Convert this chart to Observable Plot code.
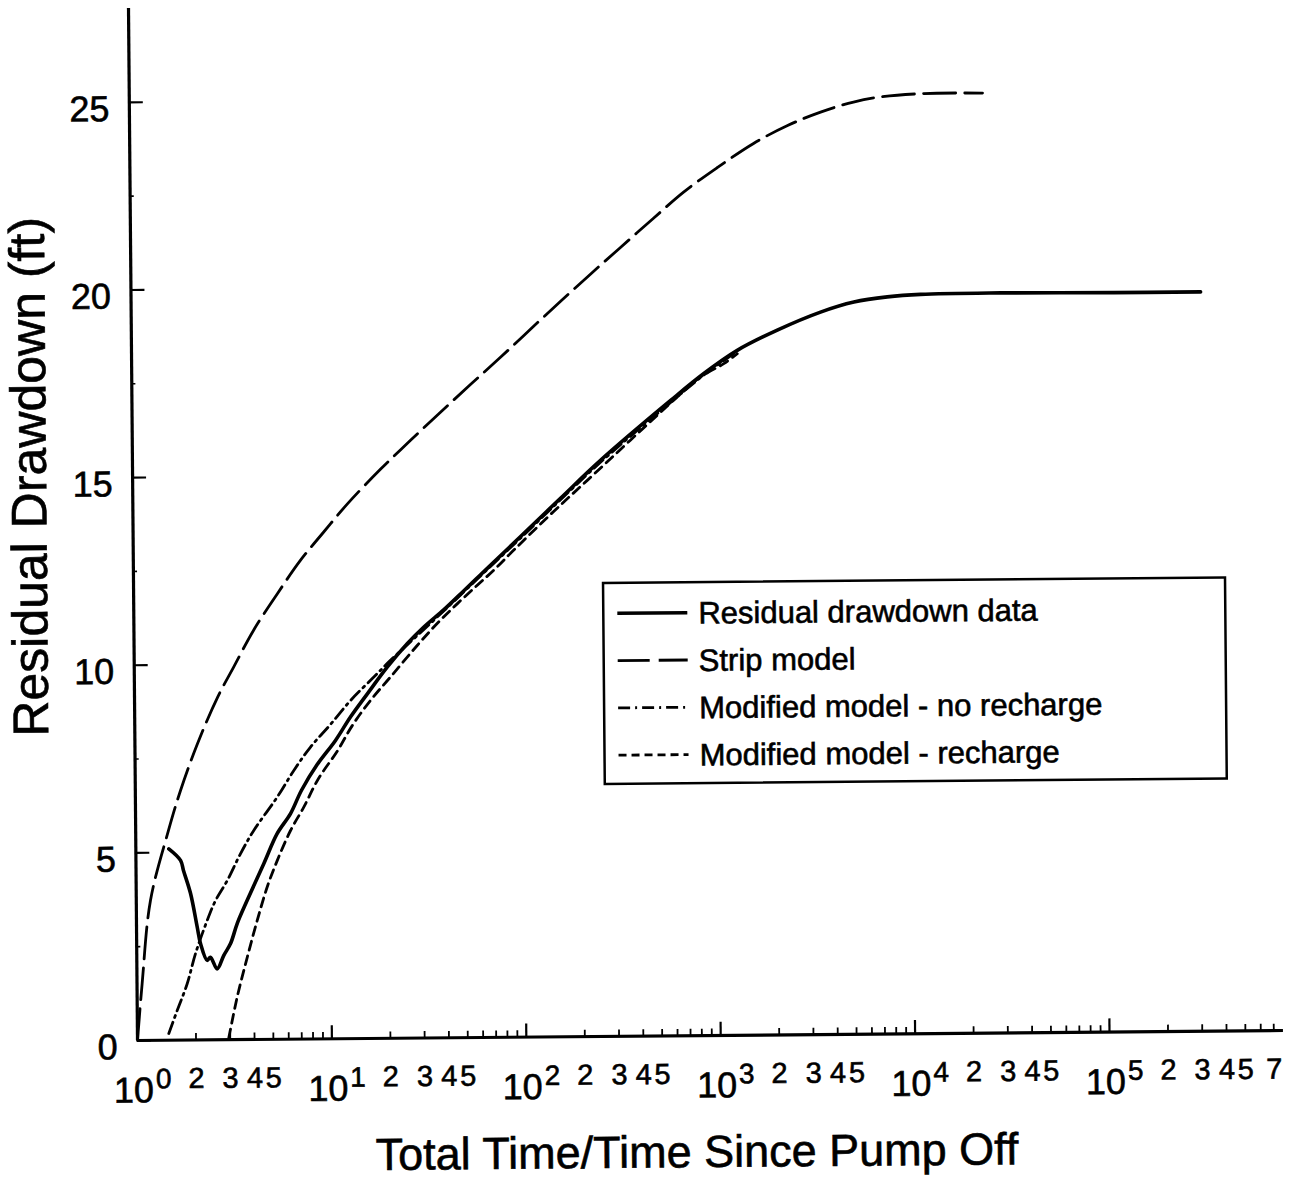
<!DOCTYPE html>
<html><head><meta charset="utf-8">
<script src="https://cdn.jsdelivr.net/npm/d3@7"></script>
<script src="https://cdn.jsdelivr.net/npm/@observablehq/plot@0.6"></script>
<style>
html,body{margin:0;padding:0;background:#fff;}
#chart{position:relative;width:1290px;height:1184px;transform:rotate(-0.5deg);transform-origin:137px 1040px;}
#chart text{stroke:black;stroke-width:0.6px;}
</style></head><body><div id="chart"></div>
<script>
// ---- data ----
const residualTime = [1.478,1.696,1.754,1.902,2.052,2.130,2.301,2.393,2.588,2.804,3.04,3.30,3.72,4.55,5.34,6.27,7.16,8.64,10.76,12.88,15.80,20.0,25.4,31.0,39.4,50.0,61.0,74.5,98.4,158.5,255.5,590,877,1306,2102,3515,5224,7762,11510,29700,113300,317500];
const residualDrawdown = [5.10,4.79,4.52,3.91,3.01,2.57,2.12,2.20,1.89,2.25,2.56,3.10,3.71,4.69,5.48,6.01,6.63,7.31,7.95,8.57,9.19,9.89,10.51,10.95,11.41,11.91,12.33,12.75,13.34,14.35,15.35,16.93,17.64,18.25,18.78,19.25,19.51,19.64,19.70,19.72,19.70,19.70];

const stripTime = [1,1.063,1.183,1.475,1.708,2.10,2.67,3.24,4.12,5.50,7.25,9.54,12.7,18.9,27.0,38.6,55.2,79.0,113,162,232,331,491,703,1054,1618,2426,3590,5307,7313,12170,24490];
const stripDrawdown = [0,1.52,3.73,5.59,6.65,7.90,9.12,9.92,10.90,11.88,12.76,13.50,14.25,15.17,15.93,16.67,17.40,18.12,18.86,19.60,20.32,21.02,21.79,22.48,23.13,23.76,24.23,24.58,24.84,24.97,25.05,25.05];

const noRechargeTime = [1.450,1.605,1.812,2.005,2.31,2.556,2.942,3.45,4.05,5.36,6.55,8.0,10.17,12.91,17.06,20.8,27.5,39.4,61.0,98.4,158.5,255.5,590,877,1250];
const noRechargeDrawdown = [0.18,0.79,1.50,2.30,3.18,3.71,4.24,4.95,5.57,6.45,7.16,7.78,8.38,9.01,9.63,10.07,10.64,11.38,12.30,13.30,14.31,15.30,16.88,17.60,18.16];

const rechargeTime = [2.950,3.27,3.70,4.18,4.72,5.33,6.26,7.34,8.77,10.97,13.18,16.37,20.8,28.6,36.3,46.1,58.6,71.4,90.7,146,218,638,843,1112,1306];
const rechargeDrawdown = [0.05,1.13,2.19,3.17,4.06,4.76,5.56,6.18,6.94,7.66,8.35,9.01,9.63,10.46,11.04,11.56,12.05,12.45,12.98,14.00,14.82,17.02,17.55,17.90,18.16];

// ---- tick labels ----
const decadeTicks = [1,10,100,1000,10000,100000];
const decadeExponents = ["0","1","2","3","4","5"];
const minorLabelTicks = [2,3,4,5, 20,30,40,50, 200,300,400,500, 2000,3000,4000,5000, 20000,30000,40000,50000, 200000,300000,400000,500000,700000];
const minorLabelText = ["2","3","4","5","2","3","4","5","2","3","4","5","2","3","4","5","2","3","4","5","2","3","4","5","7"];
const yTicks = [0,5,10,15,20,25];
const yMinorTicks = [2.5,7.5,12.5,17.5,22.5];
const minorMultipliers = [2,3,4,5,6,7,8,9];
const xMax = 7.85e5;

const legendLabels = ["Residual drawdown data","Strip model","Modified model - no recharge","Modified model - recharge"];
const legendDash = [null,"32,9","12,5,2,5","8,5"];
const legendWidth = [3.4,2.8,2.8,2.8];

const minorXTicks = [];
for (const d of decadeTicks) for (const m of minorMultipliers) { const v = d*m; if (v < xMax) minorXTicks.push(v); }

const toRows = (xs, ys) => xs.map((x,i) => ({x, y: ys[i]}));
const residual = toRows(residualTime, residualDrawdown);
const strip = toRows(stripTime, stripDrawdown);
const noRecharge = toRows(noRechargeTime, noRechargeDrawdown);
const recharge = toRows(rechargeTime, rechargeDrawdown);

const font = "'Liberation Sans', Arial, Helvetica, sans-serif";

const plot = Plot.plot({
  width: 1290, height: 1184,
  marginLeft: 137, marginRight: 7, marginTop: 8, marginBottom: 144,
  x: {type: "log", domain: [1, xMax], axis: null},
  y: {domain: [0, 27.5], axis: null},
  style: {fontFamily: font, background: "white", color: "black", overflow: "visible"},
  marks: [
    Plot.line(strip, {x: "x", y: "y", stroke: "black", strokeWidth: 2.8, strokeDasharray: "32,9", curve: "catmull-rom"}),
    Plot.line(noRecharge, {x: "x", y: "y", stroke: "black", strokeWidth: 2.8, strokeDasharray: "12,5,2,5", curve: "catmull-rom"}),
    Plot.line(recharge, {x: "x", y: "y", stroke: "black", strokeWidth: 2.8, strokeDasharray: "9,6", curve: "catmull-rom"}),
    Plot.line(residual, {x: "x", y: "y", stroke: "black", strokeWidth: 3.6, curve: "catmull-rom", strokeLinejoin: "round"}),
    // axes
    Plot.ruleX([1], {x: d => d, y1: 0, y2: 27.5, strokeWidth: 3.2}),
    Plot.ruleY([0], {y: d => d, x1: 1, x2: xMax, strokeWidth: 3.2}),
    Plot.ruleX(minorXTicks, {x: d => d, y1: 0, y2: 0.17, strokeWidth: 1.8}),
    Plot.ruleX(decadeTicks, {x: d => d, y1: 0, y2: 0.35, strokeWidth: 2.2}),
    Plot.ruleY(yTicks, {y: d => d, x1: 1, x2: 1.18, strokeWidth: 2.2}),
    Plot.ruleY(yMinorTicks, {y: d => d, x1: 1, x2: 1.05, strokeWidth: 1.6}),
    // tick labels
    Plot.text(decadeTicks, {x: d => d, y: 0, text: () => "10", textAnchor: "end", lineAnchor: "bottom", dx: 16, dy: 62, fontSize: 36, fill: "black"}),
    Plot.text(decadeTicks, {x: d => d, y: 0, text: (d, i) => decadeExponents[i], textAnchor: "start", lineAnchor: "bottom", dx: 18, dy: 48, fontSize: 28, fill: "black"}),
    Plot.text(minorLabelTicks, {x: d => d, y: 0, text: (d, i) => minorLabelText[i], textAnchor: "middle", lineAnchor: "bottom", dy: 48, fontSize: 29, fill: "black"}),
    Plot.text(yTicks, {x: 1, y: d => d, text: d => String(d), textAnchor: "end", dx: -20, dy: 7, fontSize: 36, fill: "black"})
  ]
});

const svg = d3.select(plot);
// axis titles
svg.append("text").attr("x", 696).attr("y", 1172).attr("text-anchor", "middle")
  .attr("font-size", 45).attr("font-family", font).attr("fill", "black")
  .text("Total Time/Time Since Pump Off");
svg.append("text").attr("transform", "translate(51,476) rotate(-90)").attr("text-anchor", "middle")
  .attr("font-size", 50).attr("font-family", font).attr("fill", "black")
  .text("Residual Drawdown (ft)");

// legend
const L = {x: 607, y: 587, w: 622, h: 201};
const g = svg.append("g").attr("text-anchor", "start");
g.append("rect").attr("x", L.x).attr("y", L.y).attr("width", L.w).attr("height", L.h)
  .attr("fill", "white").attr("stroke", "black").attr("stroke-width", 2.5);
legendLabels.forEach((lab, i) => {
  const cy = L.y + 30.5 + i * 47.3;
  const ln = g.append("line").attr("x1", L.x + 14).attr("x2", L.x + 84).attr("y1", cy).attr("y2", cy)
    .attr("stroke", "black").attr("stroke-width", legendWidth[i]);
  if (legendDash[i]) ln.attr("stroke-dasharray", legendDash[i]);
  g.append("text").attr("x", L.x + 95).attr("y", cy + 11).attr("font-size", 31)
    .attr("text-anchor", "start").attr("font-family", font).attr("fill", "black").text(lab);
});

document.getElementById("chart").appendChild(plot);
</script></body></html>
